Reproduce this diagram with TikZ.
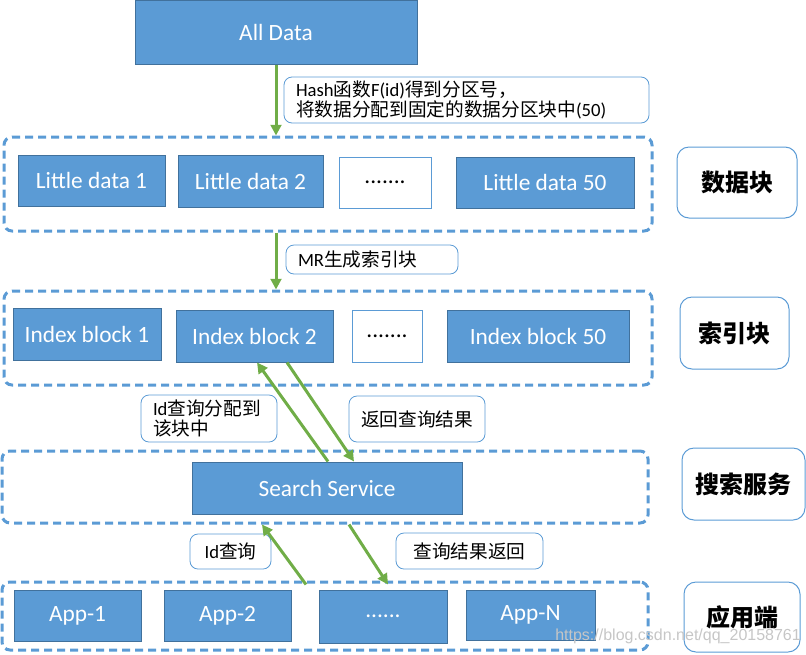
\documentclass[tikz,border=0pt]{standalone}
\usepackage{fontspec}
\setmainfont{Carlito}
\newfontfamily\cjk{Noto Sans CJK SC}
\newfontfamily\wmfont{Liberation Sans}
\newcommand\zh[1]{{\cjk #1}}
\usetikzlibrary{arrows.meta}
\definecolor{boxblue}{HTML}{5B9BD5}
\definecolor{edgeblue}{HTML}{41719C}
\definecolor{arrgreen}{HTML}{70AD47}
\begin{document}
\begin{tikzpicture}[x=.75pt,y=-.75pt,
 blk/.style={draw=edgeblue,fill=boxblue,text=white,line width=.75pt,font=\fontsize{17.5}{21}\selectfont},
 dotbox/.style={draw=boxblue,fill=white,line width=.75pt,font=\fontsize{17.5}{21}\selectfont},
 lbl/.style={draw=boxblue,fill=white,rounded corners=6pt,line width=.6pt,inner xsep=9pt,inner ysep=1pt,font=\fontsize{14}{15.5}\selectfont},
 grp/.style={draw=boxblue,dash pattern=on 6pt off 3.75pt,line width=2.25pt,rounded corners=6pt},
 tag/.style={draw=boxblue,rounded corners=9pt,line width=.75pt,font=\cjk\bfseries\fontsize{18}{21}\selectfont},
 arr/.style={draw=arrgreen,line width=2.25pt,-{Triangle[length=8pt,width=8pt]}}]
\useasboundingbox (0,0) rectangle (806,654);
% groups
\node[grp,minimum width=486pt,minimum height=70.5pt] (g1) at (328,184) {};
\node[grp,minimum width=486pt,minimum height=70.5pt] (g2) at (328,338) {};
\node[grp,minimum width=484.5pt,minimum height=54pt] (g3) at (325,487) {};
\node[grp,minimum width=484.5pt,minimum height=51pt] (g4) at (325,616) {};
% top
\node[blk,minimum width=211.5pt,minimum height=48pt] (all) at (276,32) {All Data};
\node[lbl,text width=255.75pt,align=left,minimum height=34.5pt] (hash) at (466.5,100)
 {Hash\zh{函数}F(id)\zh{得到分区号，}\\\zh{将数据分配到固定的数据分区块中}(50)};
% data blocks
\node[blk,minimum width=110.25pt,minimum height=38.25pt] (ld1) at (91.5,180.5) {Little data 1};
\node[blk,minimum width=108.75pt,minimum height=39pt] (ld2) at (250.5,181) {Little data 2};
\node[dotbox,minimum width=69pt,minimum height=38.25pt] (ldx) at (385,182.5) {.......};
\node[blk,minimum width=133.5pt,minimum height=38.25pt] (ld50) at (545,182.5) {Little data 50};
\node[tag,minimum width=90pt,minimum height=53.25pt] (tdata) at (737,182.5) {数据块};
\node[lbl,text width=111pt,align=left,minimum height=21.75pt] (mr) at (372,259.5) {MR\zh{生成索引块}};
% index blocks
\node[blk,minimum width=111pt,minimum height=39pt] (ib1) at (87,334) {Index block 1};
\node[blk,minimum width=117.75pt,minimum height=39pt] (ib2) at (254.5,336) {Index block 2};
\node[dotbox,minimum width=52.5pt,minimum height=39pt] (ibx) at (387,336) {.......};
\node[blk,minimum width=136.5pt,minimum height=39pt] (ib50) at (538,336) {Index block 50};
\node[tag,minimum width=81.75pt,minimum height=54pt] (tindex) at (734.5,333) {索引块};
\node[lbl,text width=84pt,align=left,minimum height=35.25pt] (qry) at (209,418.5) {Id\zh{查询分配到}\\\zh{该块中}};
\node[lbl,align=center,minimum width=102pt,minimum height=34.5pt] (ret) at (417,419) {\zh{返回查询结果}};
% search service
\node[blk,minimum width=202.5pt,minimum height=39pt] (ss) at (327,488) {Search Service};
\node[tag,minimum width=92.25pt,minimum height=54pt] (tsearch) at (743.5,484) {搜索服务};
\node[lbl,align=center,minimum width=60.75pt,minimum height=26.25pt] (idq) at (230.5,551.5) {Id\zh{查询}};
\node[lbl,align=center,minimum width=110.25pt,minimum height=27pt] (res) at (469.5,551) {\zh{查询结果返回}};
% apps
\node[blk,minimum width=95.25pt,minimum height=38.25pt] (app1) at (77.5,615.5) {App-1};
\node[blk,minimum width=95.25pt,minimum height=38.25pt] (app2) at (227.5,615.5) {App-2};
\node[blk,minimum width=96pt,minimum height=39.75pt] (appx) at (383,616.5) {......};
\node[blk,minimum width=96.75pt,minimum height=37.5pt] (appn) at (530.5,615) {App-N};
\node[tag,minimum width=87pt,minimum height=52.5pt] (tapp) at (742,617) {应用端};
% arrows
\draw[arr] (all.south) -- (all.south |- g1.north);
\draw[arr] (all.south |- g1.south) -- (all.south |- g2.north);
\draw[arr] ([xshift=.75pt]ss.north) -- ([xshift=1.9pt]ib2.south);
\draw[arr] ([xshift=24.4pt]ib2.south) -- ([xshift=20.25pt]ss.north);
\draw[arr] ([xshift=-14.25pt,yshift=-3pt]g4.north) -- ([xshift=-47.25pt]g3.south);
\draw[arr] ([xshift=18pt]g3.south) -- ([xshift=47.25pt,yshift=-3pt]g4.north);
\node[font=\wmfont\fontsize{12}{14}\selectfont,text=gray!45,anchor=west,inner sep=0] (wm) at (555,636) {https://blog.csdn.net/qq\_20158761};
\end{tikzpicture}
\end{document}
